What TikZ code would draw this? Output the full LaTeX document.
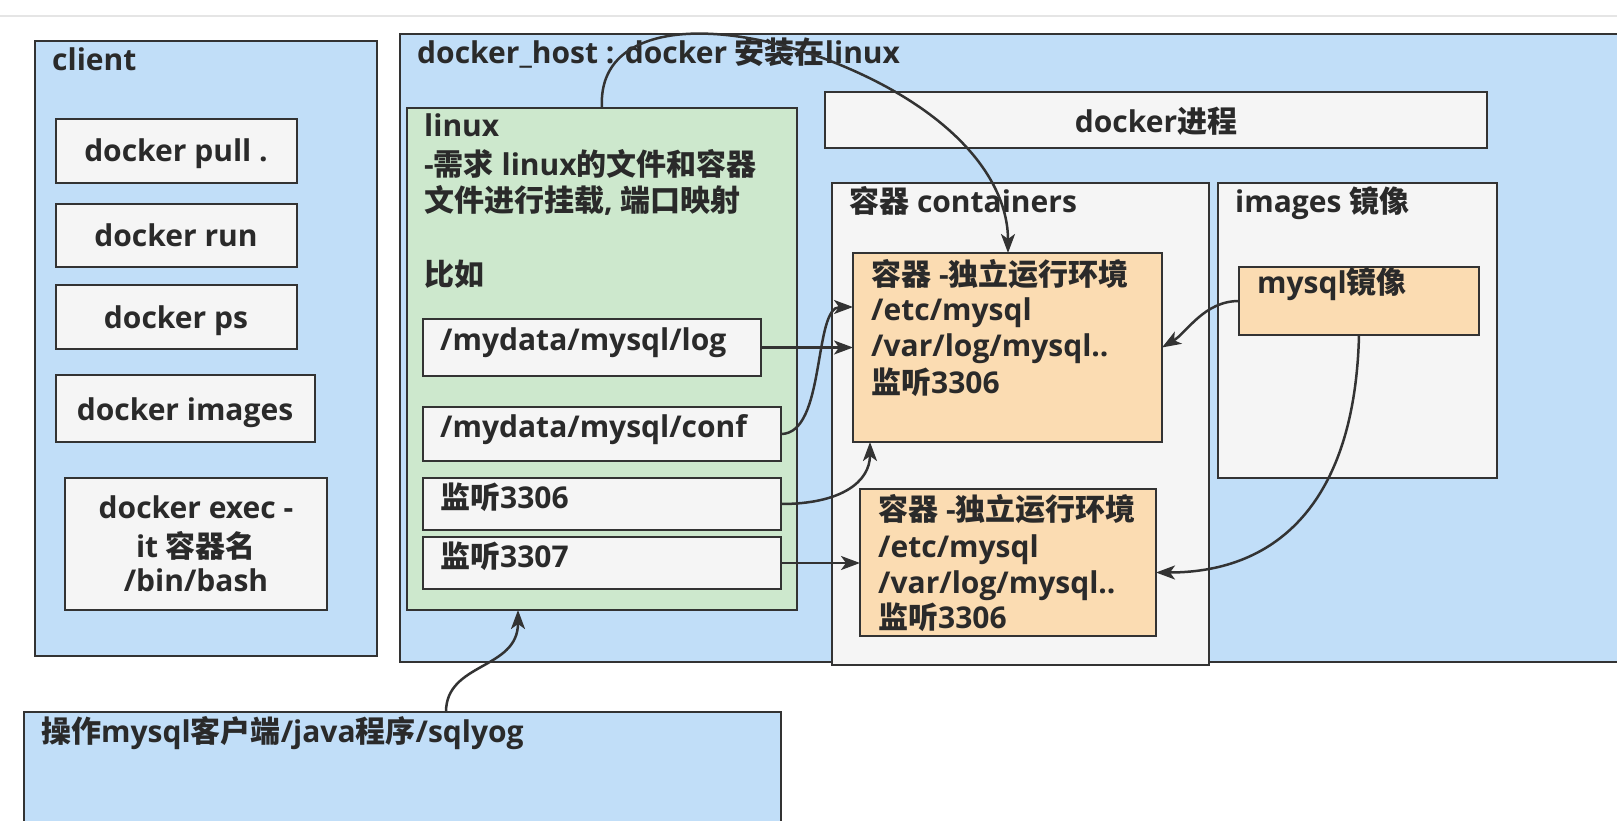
\documentclass[tikz,border=0pt]{standalone}
\usepackage{fontspec}
\setmainfont{Open Sans}
\newfontfamily\cjk{Noto Sans CJK SC}
\usetikzlibrary{fit,arrows.meta}
\definecolor{bluefill}{HTML}{C1DEF8}
\definecolor{greenfill}{HTML}{CDE8CD}
\definecolor{greyfill}{HTML}{F5F5F5}
\definecolor{orangefill}{HTML}{FBDCB2}
\definecolor{edge}{HTML}{333333}
\definecolor{txtcol}{HTML}{2A2A2A}
\newcommand\zh[1]{{\cjk #1}}
\begin{document}
\begin{tikzpicture}[x=1pt,y=-1pt,
  box/.style={draw=edge, line width=2.5pt, inner sep=0pt, outer sep=0pt},
  bluebox/.style={box, fill=bluefill},
  greenbox/.style={box, fill=greenfill},
  greybox/.style={box, fill=greyfill},
  orangebox/.style={box, fill=orangefill},
  txt/.style={anchor=base west, inner sep=0pt, font=\fontsize{30}{36}\selectfont\bfseries, text=txtcol},
  ctxt/.style={txt, anchor=base},
  conn/.style={draw=edge, line width=2.5pt, -{Stealth[length=19pt,width=14pt,inset=5pt]}}
]
\useasboundingbox (0,0) rectangle (1617,821);
\clip (0,0) rectangle (1617,821);
\fill[white] (0,0) rectangle (1617,821);
\draw[line width=1.5pt, draw=black!10] (0,16) -- (1617,16);

% containers
\node[bluebox, fit={(35,41) (377,656)}] (client) {};
\node[bluebox, fit={(400,34) (1660,662)}] (host) {};
\node[bluebox, fit={(24,712) (781,860)}] (bottom) {};

% client commands
\node[greybox, fit={(56,119) (297,183)}] (pull) {};
\node[greybox, fit={(56,204) (297,267)}] (run) {};
\node[greybox, fit={(56,285) (297,349)}] (ps) {};
\node[greybox, fit={(56,375) (315,442)}] (images) {};
\node[greybox, fit={(65,478) (327,610)}] (exec) {};

% linux
\node[greenbox, fit={(407,108) (797,610)}] (linux) {};
\node[greybox, fit={(423,319) (761,376)}] (log) {};
\node[greybox, fit={(423,407) (781,461)}] (conf) {};
\node[greybox, fit={(423,478) (781,530)}] (l3306) {};
\node[greybox, fit={(423,537) (781,589)}] (l3307) {};

% docker side
\node[greybox, fit={(825,92) (1487,148)}] (proc) {};
\node[greybox, fit={(832,183) (1209,665)}] (cont) {};
\node[greybox, fit={(1218,183) (1497,478)}] (imgs) {};
\node[orangebox, fit={(853,253) (1162,442)}] (c1) {};
\node[orangebox, fit={(1239,267) (1479,335)}] (mysql) {};
\node[orangebox, fit={(860,489) (1156,636)}] (c2) {};

% texts
\node[txt] (tclient) at (52,71) {client};
\node[ctxt] (tpull) at (176,162) {docker pull .};
\node[ctxt] (trun) at (176,247) {docker run};
\node[ctxt] (tps) at (176,328) {docker ps};
\node[ctxt] (timages) at (185,420) {docker images};
\node[ctxt] (texec1) at (196,518) {docker exec -};
\node[ctxt] (texec2) at (196,557) {it \zh{容器名}};
\node[ctxt] (texec3) at (196,591) {/bin/bash};

\node[txt] (thost) at (417,64) {docker\_host : docker \zh{安装在}linux};
\node[txt] (tl1) at (424,137) {linux};
\node[txt] (tl2) at (424,176) {-\zh{需求} linux\zh{的文件和容器}};
\node[txt] (tl3) at (424,212) {\zh{文件进行挂载}, \zh{端口映射}};
\node[txt] (tl4) at (424,285) {\zh{比如}};
\node[txt] (tlog) at (440,350) {/mydata/mysql/log};
\node[txt] (tconf) at (440,437) {/mydata/mysql/conf};
\node[txt] (t3306) at (440,508) {\zh{监听}3306};
\node[txt] (t3307) at (440,567) {\zh{监听}3307};

\node[ctxt] (tproc) at (1156,133) {docker\zh{进程}};
\node[txt] (tcont) at (849,213) {\zh{容器} containers};
\node[txt] (timgs) at (1235,213) {images \zh{镜像}};
\node[txt] (tc1a) at (871,285) {\zh{容器} -\zh{独立运行环境}};
\node[txt] (tc1b) at (871,320) {/etc/mysql};
\node[txt] (tc1c) at (871,356) {/var/log/mysql..};
\node[txt] (tc1d) at (871,393) {\zh{监听}3306};
\node[txt] (tmysql) at (1257,293) {mysql\zh{镜像}};
\node[txt] (tc2a) at (878,520) {\zh{容器} -\zh{独立运行环境}};
\node[txt] (tc2b) at (878,557) {/etc/mysql};
\node[txt] (tc2c) at (878,593) {/var/log/mysql..};
\node[txt] (tc2d) at (878,628) {\zh{监听}3306};
\node[txt] (tbottom) at (41,742) {\zh{操作}mysql\zh{客户端}/java\zh{程序}/sqlyog};

% connectors
\draw[conn] ([xshift=195pt]linux.north west) .. controls +(-5,-80) and +(-120,-42) .. ++(218,-51)
  .. controls +(130,48) and +(0,-75) .. ([xshift=155pt]c1.north west);
\draw[conn] (log.east) -- (log.east -| c1.west);
\draw[conn] (conf.east) .. controls +(45,0) and +(-40,0) .. ([yshift=-54pt]c1.north west);
\draw[conn] (l3306.east) .. controls +(60,0) and +(0,40) .. ([xshift=17pt]c1.south west);
\draw[conn] (l3307.east) -- (l3307.east -| c2.west);
\draw[conn] (mysql.west) .. controls +(-35,0) and +(25,-15) .. (c1.east);
\draw[conn] (mysql.south) .. controls +(-4,165) and +(123,0) .. ([yshift=-10pt]c2.east);
\draw[conn] ([xshift=422pt]bottom.north west) .. controls +(0,-50) and +(0,60) .. ([xshift=111pt]linux.south west);
\end{tikzpicture}
\end{document}
